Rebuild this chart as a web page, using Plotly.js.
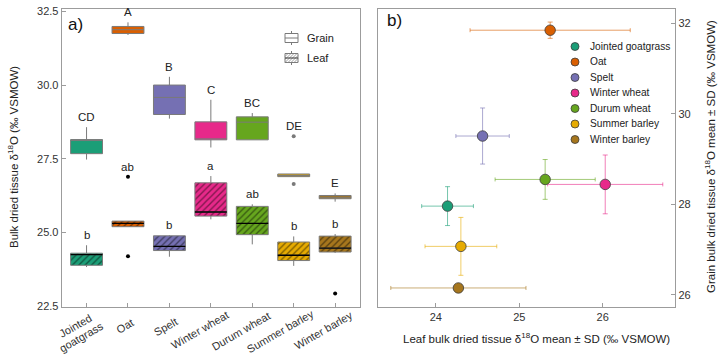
<!DOCTYPE html>
<html>
<head>
<meta charset="utf-8">
<script src="https://cdn.plot.ly/plotly-3.0.1.min.js"></script>
<style>
  html, body { margin: 0; padding: 0; background: #fff; }
  #chart { width: 718px; height: 358px; }
</style>
</head>
<body>
<div id="chart"></div>
<script>
// ---- Data ---------------------------------------------------------------
const species = ['Jointed goatgrass', 'Oat', 'Spelt', 'Winter wheat', 'Durum wheat', 'Summer barley', 'Winter barley'];
const tickLabels = ['Jointed<br>goatgrass', 'Oat', 'Spelt', 'Winter wheat', 'Durum wheat', 'Summer barley', 'Winter barley'];
const colors = ['#1B9E77', '#D95F02', '#7570B3', '#E7298A', '#66A61E', '#E6AB02', '#A6761D'];

// Grain bulk dried tissue d18O box statistics
const grainLower  = [27.47, 31.70, 28.86, 27.88, 28.14, 26.89, 26.04];
const grainQ1     = [27.67, 31.75, 29.00, 28.14, 28.14, 26.89, 26.14];
const grainMedian = [28.12, 31.88, 29.58, 28.16, 28.74, 26.93, 26.19];
const grainQ3     = [28.15, 31.99, 30.00, 28.75, 28.92, 26.98, 26.25];
const grainUpper  = [28.57, 32.13, 30.28, 29.50, 29.05, 26.98, 26.32];
const grainOutlierSpecies = ['Summer barley', 'Summer barley'];
const grainOutlierValues  = [28.26, 26.64];
const grainLetters = ['CD', 'A', 'B', 'C', 'BC', 'DE', 'E'];

// Leaf bulk dried tissue d18O box statistics
const leafLower  = [23.82, 25.19, 24.17, 25.44, 24.59, 23.86, 24.30];
const leafQ1     = [23.88, 25.19, 24.38, 25.55, 24.92, 24.04, 24.33];
const leafMedian = [24.24, 25.30, 24.52, 25.69, 25.30, 24.22, 24.46];
const leafQ3     = [24.29, 25.38, 24.88, 26.68, 25.88, 24.67, 24.87];
const leafUpper  = [24.56, 25.38, 24.90, 26.91, 25.95, 24.86, 24.94];
const leafOutlierSpecies = ['Oat', 'Oat', 'Winter barley'];
const leafOutlierValues  = [26.89, 24.19, 22.92];
const leafLetters = ['b', 'ab', 'b', 'a', 'ab', 'b', 'b'];

// Species means and standard deviations
const leafMean  = [24.14, 25.37, 24.56, 26.03, 25.31, 24.30, 24.27];
const leafSD    = [0.31, 0.96, 0.32, 0.69, 0.60, 0.43, 0.81];
const grainMean = [27.96, 31.85, 29.51, 28.44, 28.55, 27.07, 26.15];
const grainSD   = [0.43, 0.18, 0.62, 0.65, 0.44, 0.64, 0.05];

// ---- Helpers ------------------------------------------------------------
const W = 718, H = 358;
const px = x => x / W;
const py = y => 1 - y / H;
const FONT = 'Liberation Sans, Arial, Helvetica, sans-serif';
const GREY = '#7a7a7a';
const FRAME = '#9c9c9c';
const BOXW = 0.77;
const TICKSIZE = 11;

function hexToRgb(h) {
  const n = parseInt(h.slice(1), 16);
  return [(n >> 16) & 255, (n >> 8) & 255, n & 255];
}
function darker(h, f) {
  const [r, g, b] = hexToRgb(h);
  return `rgb(${Math.round(r * f)},${Math.round(g * f)},${Math.round(b * f)})`;
}
function alpha(h, a) {
  const [r, g, b] = hexToRgb(h);
  return `rgba(${r},${g},${b},${a})`;
}
const measureCtx = document.createElement('canvas').getContext('2d');
function textWidth(str, size) {
  measureCtx.font = `${size}px "Liberation Sans", Arial, sans-serif`;
  return measureCtx.measureText(str).width;
}

const traces = [];
const annotations = [];
const shapes = [];

// ---- Panel a: grain and leaf boxes ----------------------------------------
species.forEach((s, i) => {
  // Grain: solid box
  traces.push({
    type: 'box', x: [s], xaxis: 'x', yaxis: 'y',
    lowerfence: [grainLower[i]], q1: [grainQ1[i]], median: [grainMedian[i]],
    q3: [grainQ3[i]], upperfence: [grainUpper[i]],
    fillcolor: colors[i], line: { color: GREY, width: 1 },
    width: BOXW, whiskerwidth: 0, showlegend: false, hoverinfo: 'skip'
  });
  // Leaf: hatched fill between the quartiles
  traces.push({
    type: 'bar', x: [s], y: [leafQ3[i] - leafQ1[i]], base: [leafQ1[i]],
    xaxis: 'x', yaxis: 'y', width: [BOXW],
    marker: {
      color: colors[i], line: { width: 0 },
      pattern: { shape: '/', fgcolor: darker(colors[i], 0.55), bgcolor: colors[i], size: 4.5, solidity: 0.3, fillmode: 'replace' }
    },
    showlegend: false, hoverinfo: 'skip'
  });
  // Leaf: outline and whiskers
  traces.push({
    type: 'box', x: [s], xaxis: 'x', yaxis: 'y',
    lowerfence: [leafLower[i]], q1: [leafQ1[i]], median: [leafMedian[i]],
    q3: [leafQ3[i]], upperfence: [leafUpper[i]],
    fillcolor: 'rgba(0,0,0,0)', line: { color: GREY, width: 1 },
    width: BOXW, whiskerwidth: 0, showlegend: false, hoverinfo: 'skip'
  });
  // Leaf: black median bar
  const m = leafMedian[i];
  traces.push({
    type: 'box', x: [s], xaxis: 'x', yaxis: 'y',
    lowerfence: [m], q1: [m], median: [m], q3: [m], upperfence: [m],
    fillcolor: 'rgba(0,0,0,0)', line: { color: '#000', width: 1.3 },
    width: BOXW, whiskerwidth: 0, showlegend: false, hoverinfo: 'skip'
  });
});

traces.push({
  type: 'scatter', mode: 'markers', x: grainOutlierSpecies, y: grainOutlierValues,
  xaxis: 'x', yaxis: 'y', marker: { color: '#7a7a7a', size: 4 }, showlegend: false, hoverinfo: 'skip'
});
traces.push({
  type: 'scatter', mode: 'markers', x: leafOutlierSpecies, y: leafOutlierValues,
  xaxis: 'x', yaxis: 'y', marker: { color: '#000', size: 4 }, showlegend: false, hoverinfo: 'skip'
});

// Significance letters above the highest point of each group
function topOf(s, upper, outS, outV) {
  let t = upper;
  outS.forEach((o, k) => { if (o === s && outV[k] > t) t = outV[k]; });
  return t;
}
species.forEach((s, i) => {
  [[grainLetters[i], topOf(s, grainUpper[i], grainOutlierSpecies, grainOutlierValues)],
   [leafLetters[i], topOf(s, leafUpper[i], leafOutlierSpecies, leafOutlierValues)]].forEach(([txt, y]) => {
    annotations.push({
      xref: 'x', yref: 'y', x: s, y: y, yshift: 10, text: txt, showarrow: false,
      xanchor: 'center', yanchor: 'middle', font: { family: FONT, size: 11.5, color: '#222' }
    });
  });
});

// Slanted category labels: a point ~70% along each label sits under its tick;
// multi-line labels are laid out one line at a time.
const HJ = 0.7, ANG = 30 * Math.PI / 180, LINE_H = 12.5;
species.forEach((s, i) => {
  const lines = tickLabels[i].split('<br>');
  const L = Math.max(...lines.map(t => textWidth(t, TICKSIZE)));
  const extra = lines.length > 1 ? 3 : 0;
  const cx = -(HJ - 0.5) * L * Math.cos(ANG);               // px, rightwards
  const cy = (HJ - 0.5) * L * Math.sin(ANG) + extra;         // px, downwards
  lines.forEach((t, k) => {
    const off = (k - (lines.length - 1) / 2) * LINE_H;
    annotations.push({
      xref: 'x', yref: 'paper', x: s, y: py(324),
      xshift: cx + off * Math.sin(ANG),
      yshift: -(cy + off * Math.cos(ANG)),
      text: t, textangle: -30, showarrow: false,
      xanchor: 'center', yanchor: 'middle',
      font: { family: FONT, size: TICKSIZE, color: '#333' }
    });
  });
});

// ---- Panel b: means with SD error bars -----------------------------------
species.forEach((s, i) => {
  traces.push({
    type: 'scatter', mode: 'markers', name: s, xaxis: 'x2', yaxis: 'y2',
    x: [leafMean[i]], y: [grainMean[i]],
    error_x: { type: 'data', array: [leafSD[i]], color: alpha(colors[i], 0.6), thickness: 1, width: 2 },
    error_y: { type: 'data', array: [grainSD[i]], color: alpha(colors[i], 0.6), thickness: 1, width: 2.5 },
    marker: { size: 10.5, color: colors[i], line: { color: '#3c3c3c', width: 0.8 } },
    showlegend: false, hoverinfo: 'skip'
  });
});

// Legend for panel b
species.forEach((s, i) => {
  const cy = 46.5 + 15.5 * i;
  shapes.push({
    type: 'circle', xref: 'paper', yref: 'paper', xsizemode: 'pixel', ysizemode: 'pixel',
    xanchor: px(575), yanchor: py(cy), x0: -4, x1: 4, y0: -4, y1: 4,
    fillcolor: colors[i], line: { color: '#3c3c3c', width: 0.8 }
  });
  annotations.push({
    xref: 'paper', yref: 'paper', x: px(588), y: py(cy), text: s, showarrow: false,
    xanchor: 'left', yanchor: 'middle', font: { family: FONT, size: 10.2, color: '#222' }
  });
});

// Legend for panel a (Grain / Leaf box keys)
function boxKey(x0, x1, y0, y1, hatched) {
  const P = v => px(v), Q = v => py(v);
  const xc = (x0 + x1) / 2, ym = (y0 + y1) / 2;
  shapes.push({ type: 'rect', xref: 'paper', yref: 'paper', x0: P(x0), x1: P(x1), y0: Q(y1), y1: Q(y0),
    fillcolor: '#fff', line: { color: GREY, width: 1 } });
  if (hatched) {
    const h = y1 - y0;
    let d = '';
    for (let t = -h; t < x1 - x0; t += 3) {
      const us = Math.max(x0, x0 + t), ue = Math.min(x1, x0 + t + h);
      if (us >= ue) continue;
      const vs = y1 - (us - x0 - t), ve = y1 - (ue - x0 - t);
      d += `M${P(us)},${Q(vs)} L${P(ue)},${Q(ve)} `;
    }
    shapes.push({ type: 'path', xref: 'paper', yref: 'paper', path: d, line: { color: '#888', width: 0.8 } });
  }
  shapes.push({ type: 'line', xref: 'paper', yref: 'paper', x0: P(x0), x1: P(x1), y0: Q(ym), y1: Q(ym),
    line: { color: hatched ? '#333' : GREY, width: 1 } });
  shapes.push({ type: 'line', xref: 'paper', yref: 'paper', x0: P(xc), x1: P(xc), y0: Q(y0 - 2.5), y1: Q(y0),
    line: { color: GREY, width: 1 } });
  shapes.push({ type: 'line', xref: 'paper', yref: 'paper', x0: P(xc), x1: P(xc), y0: Q(y1), y1: Q(y1 + 2.5),
    line: { color: GREY, width: 1 } });
}
boxKey(285, 298, 33.5, 42.5, false);
boxKey(285, 298, 53.5, 62.5, true);
annotations.push({ xref: 'paper', yref: 'paper', x: px(305), y: py(38), text: 'Grain', showarrow: false,
  xanchor: 'left', yanchor: 'middle', font: { family: FONT, size: 11, color: '#222' } });
annotations.push({ xref: 'paper', yref: 'paper', x: px(305), y: py(58), text: 'Leaf', showarrow: false,
  xanchor: 'left', yanchor: 'middle', font: { family: FONT, size: 11, color: '#222' } });

// Panel tags and axis titles
annotations.push({ xref: 'paper', yref: 'paper', x: px(75), y: py(24), text: 'a)', showarrow: false,
  xanchor: 'center', yanchor: 'middle', font: { family: FONT, size: 17, color: '#111' } });
annotations.push({ xref: 'paper', yref: 'paper', x: px(394), y: py(21), text: 'b)', showarrow: false,
  xanchor: 'center', yanchor: 'middle', font: { family: FONT, size: 17, color: '#111' } });
annotations.push({ xref: 'paper', yref: 'paper', x: px(13), y: py(157), textangle: -90,
  text: 'Bulk dried tissue δ<sup>18</sup>O (‰ VSMOW)', showarrow: false,
  xanchor: 'center', yanchor: 'middle', font: { family: FONT, size: 11.5, color: '#222' } });
annotations.push({ xref: 'paper', yref: 'paper', x: px(710), y: py(157), textangle: -90,
  text: 'Grain bulk dried tissue δ<sup>18</sup>O mean ± SD (‰ VSMOW)', showarrow: false,
  xanchor: 'center', yanchor: 'middle', font: { family: FONT, size: 11.5, color: '#222' } });
annotations.push({ xref: 'paper', yref: 'paper', x: px(536), y: py(338),
  text: 'Leaf bulk dried tissue δ<sup>18</sup>O mean ± SD (‰ VSMOW)', showarrow: false,
  xanchor: 'center', yanchor: 'middle', font: { family: FONT, size: 11.5, color: '#222' } });

// ---- Layout ---------------------------------------------------------------
const axisCommon = {
  showline: true, mirror: true, linecolor: FRAME, linewidth: 1,
  ticks: 'inside', ticklen: 4, tickcolor: FRAME, tickwidth: 1,
  showgrid: false, zeroline: false, automargin: false,
  tickfont: { family: FONT, size: 11, color: '#333' }, fixedrange: true
};
const yDomain = [py(306.5), py(8.5)];

const layout = {
  width: W, height: H, margin: { l: 0, r: 0, t: 0, b: 0 },
  paper_bgcolor: '#fff', plot_bgcolor: '#fff',
  font: { family: FONT, color: '#333' },
  showlegend: false, hovermode: false,
  barmode: 'overlay', boxmode: 'overlay',
  xaxis: Object.assign({}, axisCommon, {
    domain: [px(61.7), px(360)], anchor: 'y', type: 'category',
    categoryorder: 'array', categoryarray: species, range: [-0.6, 6.6],
    tickvals: species, showticklabels: false
  }),
  yaxis: Object.assign({}, axisCommon, {
    domain: yDomain, anchor: 'x', range: [22.48, 32.6],
    tickvals: [22.5, 25, 27.5, 30, 32.5], tickformat: '.1f'
  }),
  xaxis2: Object.assign({}, axisCommon, {
    domain: [px(378.3), px(675.3)], anchor: 'y2', range: [23.31, 26.87],
    tickvals: [24, 25, 26]
  }),
  yaxis2: Object.assign({}, axisCommon, {
    domain: yDomain, anchor: 'x2', side: 'right', range: [25.74, 32.33],
    tickvals: [26, 28, 30, 32]
  }),
  shapes: shapes,
  annotations: annotations
};

Plotly.newPlot('chart', traces, layout, { staticPlot: true, displayModeBar: false });
</script>
</body>
</html>
